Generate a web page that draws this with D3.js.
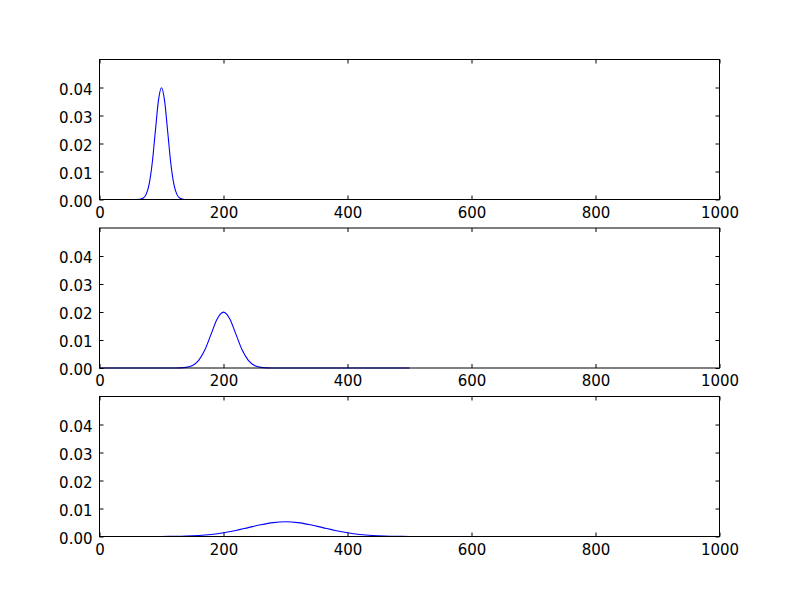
<!DOCTYPE html>
<html><head><meta charset="utf-8">
<script src="https://cdn.jsdelivr.net/npm/d3@7"></script>
<style>body{margin:0;background:#fff}svg{display:block}text{font-family:"DejaVu Sans",sans-serif;font-size:15px;fill:#000}</style>
</head><body><svg id="c" width="800" height="597"></svg>
<script>
// Data
const xTicks = [0, 200, 400, 600, 800, 1000];
const yTicks = [0, 0.01, 0.02, 0.03, 0.04];
const yTickLabels = ["0.00", "0.01", "0.02", "0.03", "0.04"];

const x1 = [0, 60, 65, 70, 75, 80, 85, 90, 95, 100, 105, 110, 115, 120, 125, 130, 135, 140, 500];
const y1 = [0, 0.0000134, 0.0000873, 0.00044, 0.00175, 0.0054, 0.01295, 0.0242, 0.0352, 0.0399, 0.0352, 0.0242, 0.01295, 0.0054, 0.00175, 0.00044, 0.0000873, 0.0000134, 0];

const x2 = [0, 120, 130, 140, 150, 160, 170, 180, 190, 200, 210, 220, 230, 240, 250, 260, 270, 280, 500];
const y2 = [0, 0.0000067, 0.0000437, 0.000222, 0.000876, 0.0027, 0.00648, 0.0121, 0.01761, 0.01995, 0.01761, 0.0121, 0.00648, 0.0027, 0.000876, 0.000222, 0.0000437, 0.0000067, 0];

const x3 = [0, 100, 120, 140, 160, 180, 200, 220, 240, 260, 280, 300, 320, 340, 360, 380, 400, 420, 440, 460, 480, 500];
const y3 = [0, 0.0000203, 0.0000583, 0.00015, 0.000345, 0.00071, 0.00131, 0.00216, 0.00318, 0.0042, 0.00497, 0.00525, 0.00497, 0.0042, 0.00318, 0.00216, 0.00131, 0.00071, 0.000345, 0.00015, 0.0000583, 0.0000203];

const panels = [
  {xs: x1, ys: y1, top: 59.5},
  {xs: x2, ys: y2, top: 228},
  {xs: x3, ys: y3, top: 396.5}
];

const svg = d3.select("#c");
const left = 99.5, right = 719.5, h = 140;
const x = d3.scaleLinear().domain([0, 1000]).range([left, right]);

panels.forEach(p => {
  const y = d3.scaleLinear().domain([0, 0.05]).range([p.top + h, p.top]);
  const g = svg.append("g");
  const pts = p.xs.map((v, i) => [v, p.ys[i]]);
  g.append("path").datum(pts)
    .attr("fill", "none").attr("stroke", "#0000ff").attr("stroke-width", 1.1)
    .attr("d", d3.line().x(d => x(d[0])).y(d => y(d[1])).curve(d3.curveMonotoneX));

  // frame
  g.append("rect").attr("x", left).attr("y", p.top).attr("width", right - left).attr("height", h)
    .attr("fill", "none").attr("stroke", "#000").attr("stroke-width", 1);

  // axes with inward ticks on all four sides
  const xb = d3.axisBottom(x).tickValues(xTicks).tickSize(-4).tickPadding(7.5).tickFormat(d3.format("d"));
  const gb = g.append("g").attr("transform", `translate(0,${p.top + h})`).call(xb);
  const xt = d3.axisTop(x).tickValues(xTicks).tickSize(-4).tickFormat("");
  const gt = g.append("g").attr("transform", `translate(0,${p.top})`).call(xt);
  const yl = d3.axisLeft(y).tickValues(yTicks).tickSize(-4).tickPadding(7).tickFormat((d, i) => yTickLabels[i]);
  const gl = g.append("g").attr("transform", `translate(${left},0)`).call(yl);
  const yr = d3.axisRight(y).tickValues(yTicks).tickSize(-4).tickFormat("");
  const gr = g.append("g").attr("transform", `translate(${right},0)`).call(yr);
  [gb, gt, gl, gr].forEach(a => {
    a.select(".domain").remove();
    a.selectAll("line").attr("stroke", "#000");
    a.selectAll("text").attr("font-family", "DejaVu Sans").attr("font-size", 15).attr("fill", "#000");
  });
  gl.selectAll("text").attr("dy", "0.45em");
});
</script></body></html>
